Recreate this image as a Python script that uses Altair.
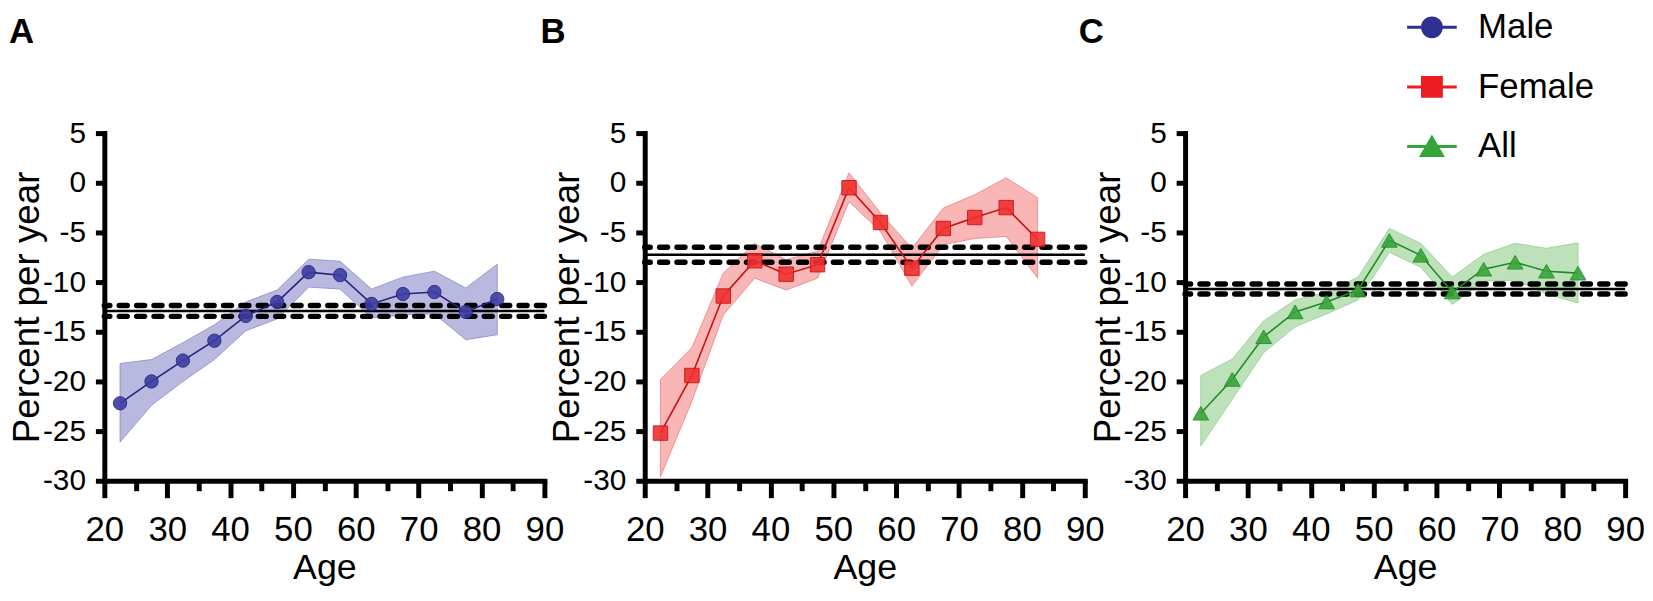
import altair as alt
import pandas as pd

# ---------------- data ----------------
ages = [22.5, 27.5, 32.5, 37.5, 42.5, 47.5, 52.5, 57.5, 62.5, 67.5, 72.5, 77.5, 82.5]
groups = ["Male", "Female", "All"]

male_mean = [-22.2, -20.0, -17.9, -15.9, -13.4, -12.0, -9.0, -9.3, -12.2, -11.2, -11.0, -13.0, -11.7]
male_lower = [-26.1, -22.4, -20.0, -17.8, -14.9, -13.7, -10.5, -10.7, -13.6, -13.3, -13.2, -15.8, -15.3]
male_upper = [-18.2, -17.8, -16.1, -14.3, -12.0, -10.8, -7.7, -7.9, -10.7, -9.5, -8.9, -10.6, -8.2]
male_ref = [-12.9, -12.35, -13.45]  # estimate, CI bound, CI bound

female_mean = [-25.2, -19.4, -11.4, -7.85, -9.2, -8.25, -0.5, -4.0, -8.6, -4.6, -3.5, -2.5, -5.7]
female_lower = [-29.6, -22.0, -13.3, -9.6, -10.8, -9.6, -1.9, -4.9, -10.4, -6.25, -5.6, -5.4, -9.6]
female_upper = [-19.8, -16.6, -9.1, -6.1, -7.75, -6.9, 1.0, -3.05, -6.6, -2.55, -1.2, 0.5, -1.5]
female_ref = [-7.25, -6.5, -8.0]

all_mean = [-23.2, -19.8, -15.5, -13.0, -12.0, -10.8, -5.8, -7.3, -11.0, -8.7, -8.0, -8.9, -9.1]
all_lower = [-26.5, -21.8, -17.1, -14.5, -13.2, -11.8, -7.0, -8.5, -12.25, -9.9, -9.8, -11.2, -12.1]
all_upper = [-19.4, -17.75, -13.9, -11.8, -11.0, -9.5, -4.6, -6.1, -9.5, -7.2, -6.1, -6.6, -6.05]
all_ref = [-10.7, -10.2, -11.2]

x_ticks = [20, 25, 30, 35, 40, 45, 50, 55, 60, 65, 70, 75, 80, 85, 90]
y_ticks = [-30, -25, -20, -15, -10, -5, 0, 5]

FONT = "Liberation Sans"
main_colors = ["#2e3192", "#ed1c24", "#34a53a"]

# legend symbols: short line with the marker on it
legend_paths = [
    "M-1,0H1M0.38,0A0.38,0.38,0,1,1,-0.38,0A0.38,0.38,0,1,1,0.38,0Z",
    "M-1,0H1M-0.38,-0.38H0.38V0.38H-0.38Z",
    "M-1,0H1M0,-0.36L0.42,0.36H-0.42Z",
]

# ---------------- axes / scales ----------------
xaxis = alt.Axis(
    values=x_ticks,
    labelExpr="datum.value % 10 === 0 ? '' + datum.value : ''",
    labelFlush=False,
    tickSize={"condition": {"test": "datum.value % 10 === 0", "value": 17}, "value": 10},
    tickWidth=5, tickColor="black",
    domainWidth=5, domainColor="black", domainCap="square",
    labelFont=FONT, labelFontSize=35, labelColor="black", labelPadding=15,
    titleFont=FONT, titleFontSize=36, titleFontWeight="normal", titleColor="black", titlePadding=3,
    grid=False,
)
yaxis = alt.Axis(
    values=y_ticks,
    labelExpr="'' + datum.value",
    tickSize=9, tickWidth=5, tickColor="black",
    domainWidth=5, domainColor="black", domainCap="square",
    labelFont=FONT, labelFontSize=30, labelColor="black", labelPadding=10,
    titleFont=FONT, titleFontSize=37, titleFontWeight="normal", titleColor="black", titlePadding=-4,
    grid=False,
)
xscale = alt.Scale(domain=[20, 90], nice=False, zero=False)
yscale = alt.Scale(domain=[-30, 5], nice=False, zero=False)

legend = alt.Legend(
    title=None, orient="none", legendX=1310, legendY=-133, padding=0,
    symbolSize=2500, symbolStrokeWidth=3, labelFont=FONT, labelFontSize=35,
    labelColor="black", labelOffset=20, rowPadding=15, symbolOpacity=1,
)


def panel(letter, name, mean, lo, hi, ref, band_fill, band_stroke, pt_fill, pt_stroke,
          shape, size, dx, with_legend=False):
    df = pd.DataFrame({"Age": ages, "mean": mean, "lo": lo, "hi": hi, "group": name})
    est = pd.DataFrame({"v": [ref[0]]})
    ci = pd.DataFrame({"v": ref[1:]})
    X = alt.X("Age:Q", scale=xscale, axis=xaxis, title="Age")

    def Y(f):
        return alt.Y(f, scale=yscale, axis=yaxis, title="Percent per year")

    band = alt.Chart(df).mark_area(
        fill=band_fill, fillOpacity=0.5, stroke=band_stroke, strokeWidth=1, strokeOpacity=0.8
    ).encode(x=X, y=Y("lo:Q"), y2="hi:Q")
    dashed = alt.Chart(ci).mark_rule(
        color="black", strokeWidth=5.5, strokeDash=[8, 9.5], strokeCap="round"
    ).encode(y=Y("v:Q"))
    solid = alt.Chart(est).mark_rule(color="black", strokeWidth=2.5).encode(y=Y("v:Q"))
    line = alt.Chart(df).mark_line(strokeWidth=1.6, stroke=pt_stroke).encode(
        x=X, y=Y("mean:Q"),
    )
    pts = alt.Chart(df).mark_point(
        filled=True, shape=shape, size=size, fill=pt_fill, stroke=pt_stroke,
        strokeWidth=1, opacity=0.9,
    ).encode(x=X, y=Y("mean:Q"))
    layers = [band, dashed, solid, line, pts]
    if with_legend:
        key = alt.Chart(df).transform_filter("false").mark_point(
            filled=True, strokeWidth=3, opacity=1
        ).encode(
            x=X, y=Y("mean:Q"),
            fill=alt.Fill("group:N", scale=alt.Scale(domain=groups, range=main_colors), legend=legend),
            stroke=alt.Stroke("group:N", scale=alt.Scale(domain=groups, range=main_colors), legend=legend),
            shape=alt.Shape("group:N", scale=alt.Scale(domain=groups, range=legend_paths), legend=legend),
        )
        layers.append(key)
    return alt.layer(*layers).properties(
        width=443, height=350,
        title=alt.TitleParams(text=letter, anchor="start", frame="group", dx=dx, offset=41,
                              fontSize=35, fontWeight="bold", font=FONT, color="black",
                              baseline="alphabetic"),
    )


pA = panel("A", "Male", male_mean, male_lower, male_upper, male_ref,
           "#7474c0", "#8a8ac8", "#3d3da3", "#23237d", "circle", 180, -96)
pB = panel("B", "Female", female_mean, female_lower, female_upper, female_ref,
           "#f26d6d", "#ef8080", "#f03030", "#c81010", "square", 210, -105)
pC = panel("C", "All", all_mean, all_lower, all_upper, all_ref,
           "#7cc576", "#8fd08a", "#3aa53a", "#1f8a25", "triangle-up", 250, -107,
           with_legend=True)

chart = alt.hconcat(pA, pB, pC, spacing=101, bounds="flush").properties(
    padding={"left": 0, "top": -9, "right": 0, "bottom": 0}, background="white"
).configure_view(stroke=None)

chart.save("out.html", embed_options={"renderer": "svg", "actions": False})
